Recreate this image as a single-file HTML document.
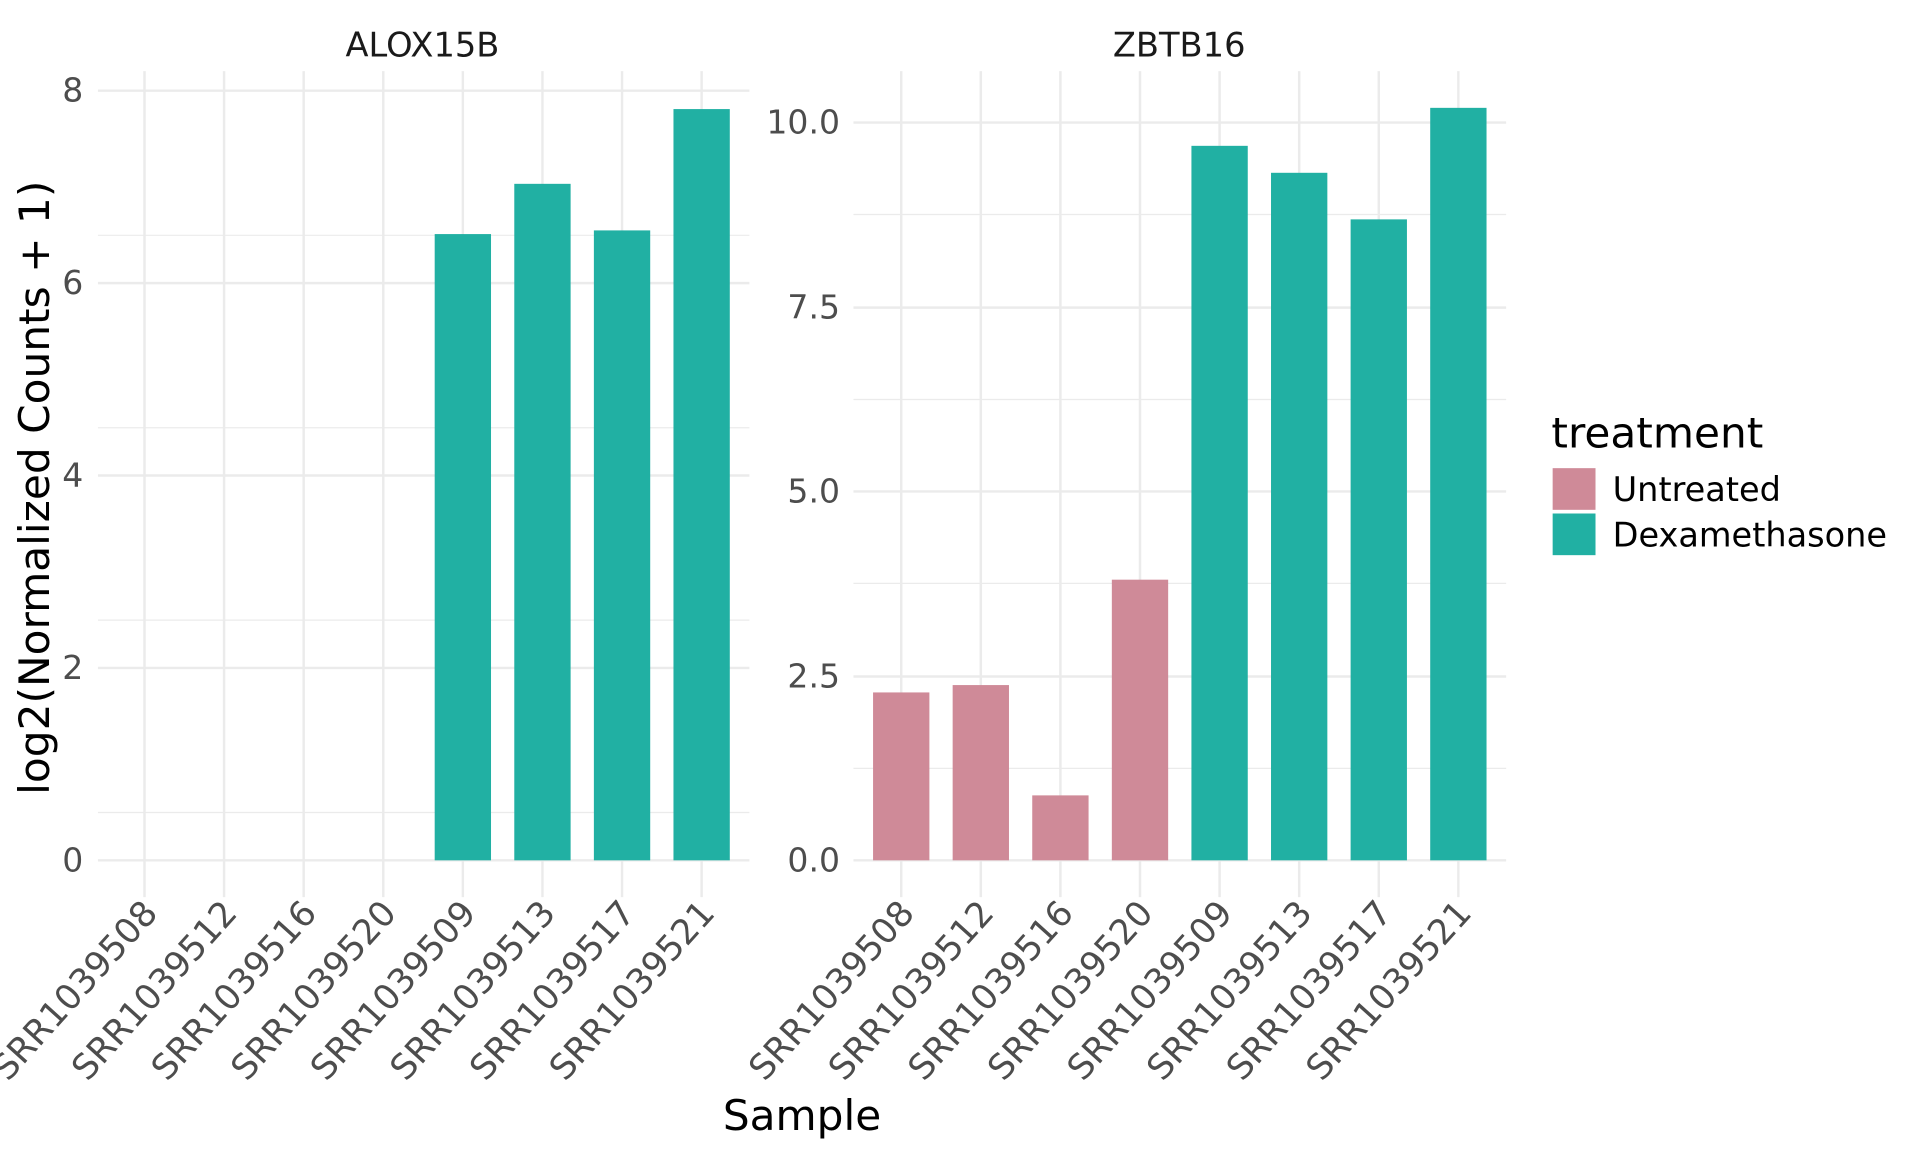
<!DOCTYPE html>
<html><head><style>html,body{margin:0;padding:0;background:#fff}svg{display:block}</style></head>
<body>
<svg width="1920" height="1152" viewBox="0 0 1568 940" preserveAspectRatio="none" xmlns="http://www.w3.org/2000/svg" font-family="'DejaVu Sans','Liberation Sans',sans-serif">
<g stroke="#ebebeb" stroke-width="1">
<line x1="80" x2="612" y1="663" y2="663"/><line x1="80" x2="612" y1="506" y2="506"/><line x1="80" x2="612" y1="349" y2="349"/><line x1="80" x2="612" y1="192" y2="192"/>
<line x1="697" x2="1230" y1="627" y2="627"/><line x1="697" x2="1230" y1="476" y2="476"/><line x1="697" x2="1230" y1="326" y2="326"/><line x1="697" x2="1230" y1="175" y2="175"/>
</g>
<g stroke="#ebebeb" stroke-width="2">
<line x1="80" x2="612" y1="702" y2="702"/><line x1="80" x2="612" y1="545" y2="545"/><line x1="80" x2="612" y1="388" y2="388"/><line x1="80" x2="612" y1="231" y2="231"/><line x1="80" x2="612" y1="74" y2="74"/>
<line x1="697" x2="1230" y1="702" y2="702"/><line x1="697" x2="1230" y1="552" y2="552"/><line x1="697" x2="1230" y1="401" y2="401"/><line x1="697" x2="1230" y1="251" y2="251"/><line x1="697" x2="1230" y1="100" y2="100"/>
<g id="v1"><line x1="118" x2="118" y1="58" y2="732"/><line x1="183" x2="183" y1="58" y2="732"/><line x1="248" x2="248" y1="58" y2="732"/><line x1="313" x2="313" y1="58" y2="732"/><line x1="378" x2="378" y1="58" y2="732"/><line x1="443" x2="443" y1="58" y2="732"/><line x1="508" x2="508" y1="58" y2="732"/><line x1="573" x2="573" y1="58" y2="732"/></g>
<use href="#v1" transform="translate(618,0)"/>
</g>
<g fill="#21b0a3">
<rect x="355" y="191" width="46" height="511"/><rect x="420" y="150" width="46" height="552"/><rect x="485" y="188" width="46" height="514"/><rect x="550" y="89" width="46" height="613"/>
<rect x="973" y="119" width="46" height="583"/><rect x="1038" y="141" width="46" height="561"/><rect x="1103" y="179" width="46" height="523"/><rect x="1168" y="88" width="46" height="614"/>
</g>
<g fill="#cf8a98">
<rect x="713" y="565" width="46" height="137"/><rect x="778" y="559" width="46" height="143"/><rect x="843" y="649" width="46" height="53"/><rect x="908" y="473" width="46" height="229"/>
</g>
<g fill="#4d4d4d" font-size="27" text-anchor="end">
<text x="68" y="711">0</text><text x="68" y="554">2</text><text x="68" y="397">4</text><text x="68" y="240">6</text><text x="68" y="83">8</text>
<text x="686" y="711">0.0</text><text x="686" y="561">2.5</text><text x="686" y="410">5.0</text><text x="686" y="260">7.5</text><text x="686" y="109">10.0</text>
</g>
<g fill="#1a1a1a" font-size="27.5" text-anchor="middle">
<text x="345" y="46">ALOX15B</text><text x="963" y="46">ZBTB16</text>
</g>
<g fill="#4d4d4d" font-size="28.5" text-anchor="end">
<text transform="translate(130,746) rotate(-48)">SRR1039508</text>
<text transform="translate(195,746) rotate(-48)">SRR1039512</text>
<text transform="translate(260,746) rotate(-48)">SRR1039516</text>
<text transform="translate(325,746) rotate(-48)">SRR1039520</text>
<text transform="translate(390,746) rotate(-48)">SRR1039509</text>
<text transform="translate(455,746) rotate(-48)">SRR1039513</text>
<text transform="translate(520,746) rotate(-48)">SRR1039517</text>
<text transform="translate(585,746) rotate(-48)">SRR1039521</text>
<text transform="translate(748,746) rotate(-48)">SRR1039508</text>
<text transform="translate(813,746) rotate(-48)">SRR1039512</text>
<text transform="translate(878,746) rotate(-48)">SRR1039516</text>
<text transform="translate(943,746) rotate(-48)">SRR1039520</text>
<text transform="translate(1008,746) rotate(-48)">SRR1039509</text>
<text transform="translate(1073,746) rotate(-48)">SRR1039513</text>
<text transform="translate(1138,746) rotate(-48)">SRR1039517</text>
<text transform="translate(1203,746) rotate(-48)">SRR1039521</text>
</g>
<text x="655" y="922" font-size="34.5" text-anchor="middle" fill="#000">Sample</text>
<text transform="translate(40,398) rotate(-90)" font-size="34.5" text-anchor="middle" fill="#000">log2(Normalized Counts + 1)</text>
<text x="1267" y="365" font-size="34.5" fill="#000">treatment</text>
<rect x="1268" y="382" width="35" height="34" fill="#cf8a98"/>
<rect x="1268" y="419" width="35" height="34" fill="#21b0a3"/>
<text x="1317" y="409" font-size="27.4" fill="#000">Untreated</text>
<text x="1317" y="446" font-size="27.4" fill="#000">Dexamethasone</text>
</svg>
</body></html>
